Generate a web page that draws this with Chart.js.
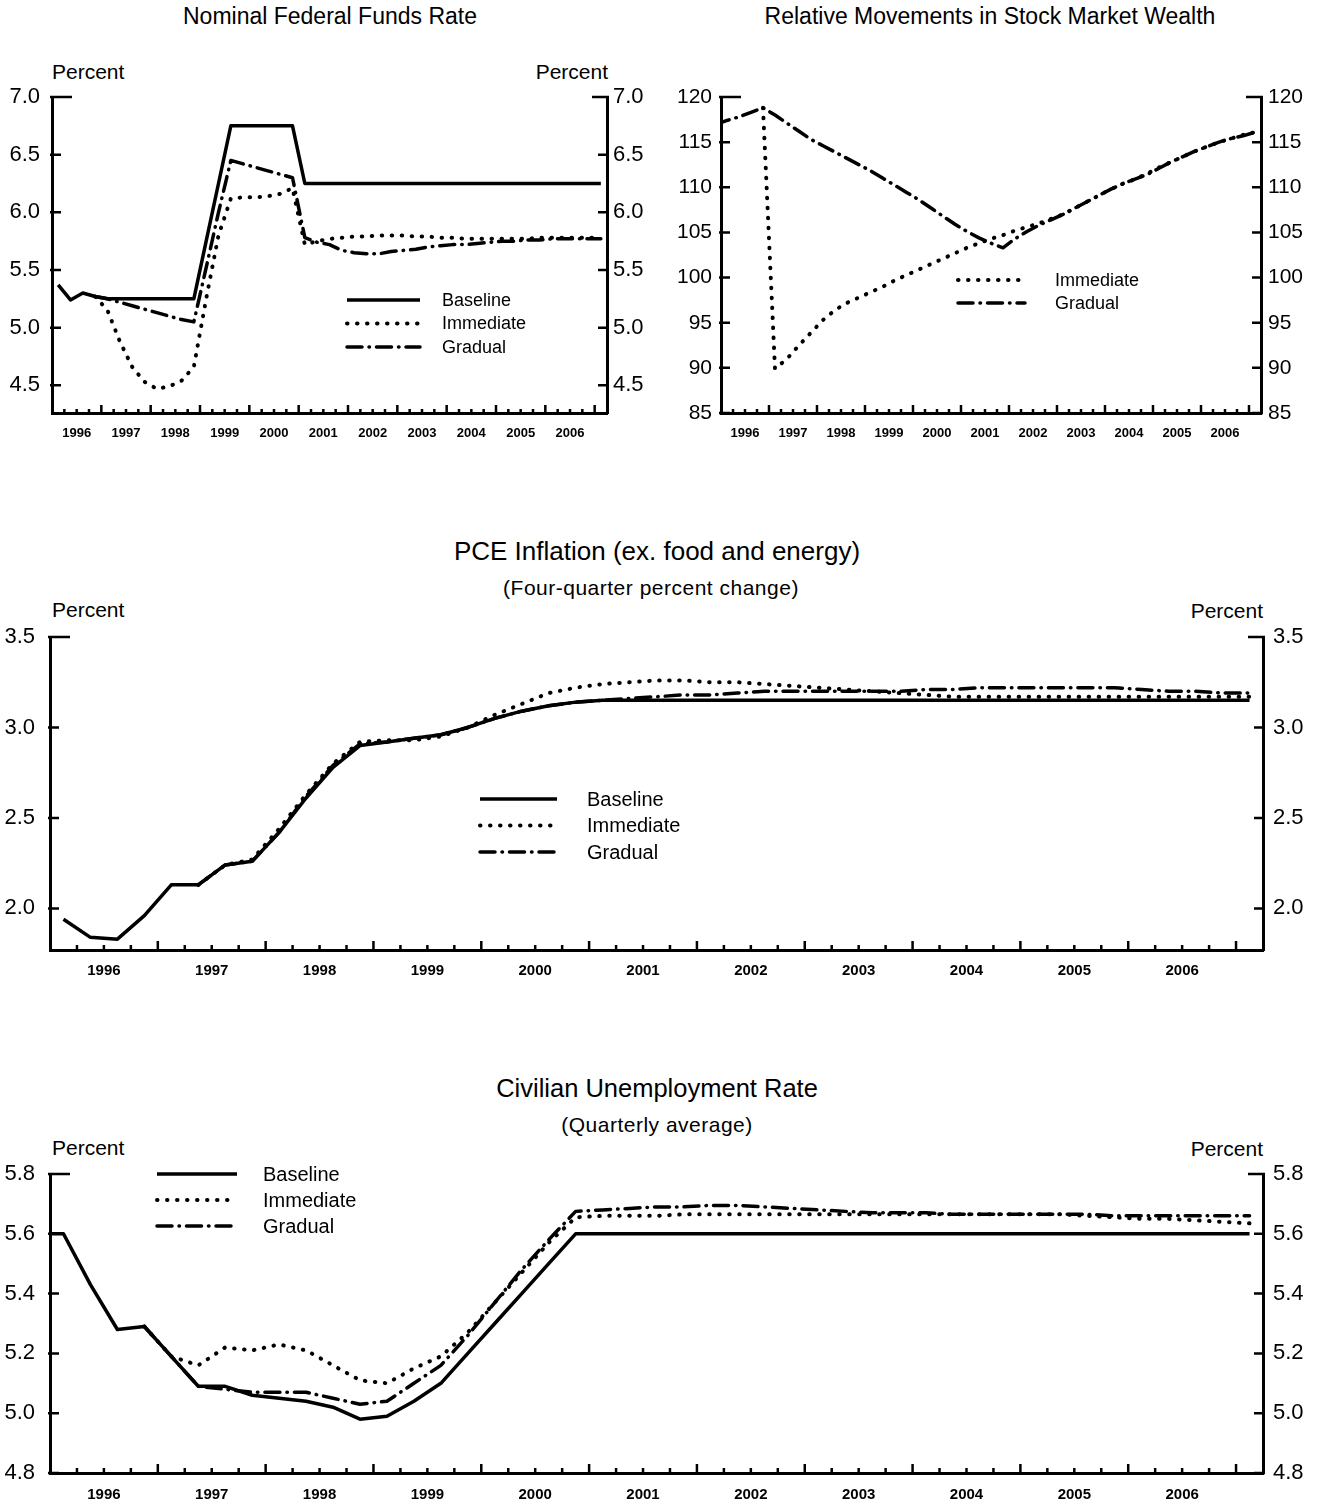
<!DOCTYPE html>
<html>
<head>
<meta charset="utf-8">
<script src="https://cdn.jsdelivr.net/npm/chart.js@4.4.1/dist/chart.umd.min.js"></script>
<style>
  body { margin: 0; background: #fff; }
  #page { position: relative; width: 1322px; height: 1504px; font-family: "Liberation Sans", Arial, sans-serif; color: #000; }
  .lbl { position: absolute; white-space: nowrap; line-height: 1; }
  .mid { transform: translate(-50%, -50%); }
  .vmid { transform: translateY(-50%); }
  .sub { font-size: 21px; letter-spacing: 0.5px; }
  canvas { position: absolute; }
</style>
</head>
<body>
<div id="page">
  <div class="lbl mid" style="left:330px;top:16px;font-size:23px">Nominal Federal Funds Rate</div>
  <div class="lbl mid" style="left:990px;top:16px;font-size:23px">Relative Movements in Stock Market Wealth</div>
  <div class="lbl vmid" style="left:52px;top:71px;font-size:21px">Percent</div>
  <div class="lbl vmid" style="right:714px;top:71px;font-size:21px">Percent</div>

  <div class="lbl mid" style="left:657px;top:551px;font-size:26px">PCE Inflation (ex. food and energy)</div>
  <div class="lbl mid sub" style="left:651px;top:587px">(Four-quarter percent change)</div>
  <div class="lbl vmid" style="left:52px;top:609px;font-size:21px">Percent</div>
  <div class="lbl vmid" style="right:59px;top:610px;font-size:21px">Percent</div>

  <div class="lbl mid" style="left:657px;top:1089px;font-size:25.5px">Civilian Unemployment Rate</div>
  <div class="lbl mid sub" style="left:657px;top:1124px">(Quarterly average)</div>
  <div class="lbl vmid" style="left:52px;top:1147px;font-size:21px">Percent</div>
  <div class="lbl vmid" style="right:59px;top:1148px;font-size:21px">Percent</div>

  <canvas id="fed" width="661" height="410" style="left:0;top:40px"></canvas>
  <canvas id="stock" width="661" height="410" style="left:661px;top:40px"></canvas>
  <canvas id="pce" width="1322" height="390" style="left:0;top:600px"></canvas>
  <canvas id="unemp" width="1322" height="364" style="left:0;top:1140px"></canvas>
</div>

<script>
// quarterly observations, 1995Q4 .. 2007Q1
var quarters = [
  "1995Q4",
  "1996Q1","1996Q2","1996Q3","1996Q4",
  "1997Q1","1997Q2","1997Q3","1997Q4",
  "1998Q1","1998Q2","1998Q3","1998Q4",
  "1999Q1","1999Q2","1999Q3","1999Q4",
  "2000Q1","2000Q2","2000Q3","2000Q4",
  "2001Q1","2001Q2","2001Q3","2001Q4",
  "2002Q1","2002Q2","2002Q3","2002Q4",
  "2003Q1","2003Q2","2003Q3","2003Q4",
  "2004Q1","2004Q2","2004Q3","2004Q4",
  "2005Q1","2005Q2","2005Q3","2005Q4",
  "2006Q1","2006Q2","2006Q3","2006Q4",
  "2007Q1"
];
var years = [1996, 1997, 1998, 1999, 2000, 2001, 2002, 2003, 2004, 2005, 2006];

var fedTicks = [4.5, 5.0, 5.5, 6.0, 6.5, 7.0];
var stockTicks = [85, 90, 95, 100, 105, 110, 115, 120];
var pceTicks = [2.0, 2.5, 3.0, 3.5];
var unempTicks = [4.8, 5.0, 5.2, 5.4, 5.6, 5.8];

var fedBaseline = [null,
  5.37, 5.24, 5.30, 5.27,
  5.25, 5.25, 5.25, 5.25,
  5.25, 5.25, 5.25, 5.25,
  5.75, 6.25, 6.75, 6.75,
  6.75, 6.75, 6.75, 6.75,
  6.25, 6.25, 6.25, 6.25,
  6.25, 6.25, 6.25, 6.25,
  6.25, 6.25, 6.25, 6.25,
  6.25, 6.25, 6.25, 6.25,
  6.25, 6.25, 6.25, 6.25,
  6.25, 6.25, 6.25, 6.25,
  6.25];
var fedImmediate = [null,
  null, null, null, 5.27,
  5.15, 4.88, 4.66, 4.53,
  4.47, 4.49, 4.54, 4.66,
  5.25, 5.80, 6.12, 6.13,
  6.13, 6.14, 6.16, 6.21,
  5.72, 5.75, 5.77, 5.78,
  5.79, 5.79, 5.80, 5.80,
  5.80, 5.79, 5.79, 5.78,
  5.78, 5.77, 5.77, 5.77,
  5.77, 5.77, 5.77, 5.78,
  5.78, 5.78, 5.78, 5.78,
  5.78];
var fedGradual = [null,
  null, null, null, 5.27,
  5.25, 5.22, 5.19, 5.16,
  5.13, 5.10, 5.07, 5.05,
  5.52, 6.00, 6.45, 6.42,
  6.39, 6.36, 6.33, 6.30,
  5.78, 5.74, 5.72, 5.67,
  5.65, 5.64, 5.64, 5.66,
  5.67, 5.68, 5.70, 5.71,
  5.72, 5.72, 5.73, 5.74,
  5.75, 5.75, 5.76, 5.76,
  5.77, 5.77, 5.77, 5.77,
  5.77];

var stockImmediate = [null,
  null, null, null, 118.8,
  89.9, 91.0, 92.5, 93.9,
  95.3, 96.4, 97.2, 97.8,
  98.4, 99.0, 99.7, 100.3,
  100.9, 101.5, 102.1, 102.7,
  103.3, 103.8, 104.3, 104.7,
  105.2, 105.6, 106.0, 106.5,
  107.0, 107.7, 108.4, 109.1,
  109.8, 110.4, 110.9, 111.5,
  112.2, 112.8, 113.4, 114.0,
  114.5, 115.0, 115.4, 115.8,
  116.1];
var stockGradual = [116.9,
  117.4, 117.8, 118.3, 118.8,
  118.0, 117.1, 116.2, 115.3,
  114.6, 113.9, 113.2, 112.5,
  111.8, 111.0, 110.2, 109.4,
  108.6, 107.7, 106.8, 105.9,
  105.1, 104.4, 103.8, 103.3,
  104.3, 105.1, 105.8, 106.4,
  107.0, 107.7, 108.4, 109.1,
  109.8, 110.4, 110.9, 111.4,
  112.1, 112.8, 113.4, 114.0,
  114.5, 115.0, 115.4, 115.7,
  116.1];

var pceBaseline = [null,
  1.94, 1.84, 1.83, 1.96,
  2.13, 2.13, 2.24, 2.26,
  2.42, 2.61, 2.78, 2.90,
  2.92, 2.94, 2.96, 3.00,
  3.05, 3.09, 3.12, 3.14,
  3.15, 3.15, 3.15, 3.15,
  3.15, 3.15, 3.15, 3.15,
  3.15, 3.15, 3.15, 3.15,
  3.15, 3.15, 3.15, 3.15,
  3.15, 3.15, 3.15, 3.15,
  3.15, 3.15, 3.15, 3.15,
  3.15];
var pceImmediate = [null,
  null, null, null, null,
  null, 2.13, 2.24, 2.27,
  2.44, 2.63, 2.80, 2.92,
  2.93, 2.93, 2.95, 3.00,
  3.07, 3.13, 3.19, 3.22,
  3.24, 3.25, 3.26, 3.26,
  3.25, 3.25, 3.24, 3.23,
  3.22, 3.21, 3.20, 3.19,
  3.18, 3.17, 3.17, 3.17,
  3.17, 3.17, 3.17, 3.17,
  3.17, 3.17, 3.17, 3.17,
  3.17];
var pceGradual = [null,
  null, null, null, null,
  null, 2.13, 2.24, 2.26,
  2.42, 2.62, 2.79, 2.91,
  2.92, 2.94, 2.96, 3.00,
  3.05, 3.09, 3.12, 3.14,
  3.15, 3.16, 3.17, 3.18,
  3.18, 3.19, 3.20, 3.20,
  3.20, 3.20, 3.20, 3.20,
  3.21, 3.21, 3.22, 3.22,
  3.22, 3.22, 3.22, 3.22,
  3.21, 3.20, 3.20, 3.19,
  3.19];

var unempBaseline = [5.60,
  5.60, 5.43, 5.28, 5.29,
  5.19, 5.09, 5.09, 5.06,
  5.05, 5.04, 5.02, 4.98,
  4.99, 5.04, 5.10, 5.20,
  5.30, 5.40, 5.50, 5.60,
  5.60, 5.60, 5.60, 5.60,
  5.60, 5.60, 5.60, 5.60,
  5.60, 5.60, 5.60, 5.60,
  5.60, 5.60, 5.60, 5.60,
  5.60, 5.60, 5.60, 5.60,
  5.60, 5.60, 5.60, 5.60,
  5.60];
var unempImmediate = [null,
  null, null, null, 5.29,
  5.19, 5.16, 5.22, 5.21,
  5.23, 5.21, 5.16, 5.11,
  5.10, 5.15, 5.19, 5.27,
  5.37, 5.47, 5.57, 5.655,
  5.66, 5.66, 5.66, 5.665,
  5.665, 5.665, 5.665, 5.665,
  5.665, 5.665, 5.665, 5.665,
  5.665, 5.665, 5.665, 5.665,
  5.665, 5.665, 5.66, 5.655,
  5.65, 5.65, 5.645, 5.64,
  5.635];
var unempGradual = [null,
  null, null, null, 5.29,
  5.19, 5.09, 5.08, 5.07,
  5.07, 5.07, 5.05, 5.03,
  5.04, 5.10, 5.16, 5.26,
  5.37, 5.48, 5.58, 5.675,
  5.68, 5.685, 5.69, 5.69,
  5.695, 5.695, 5.69, 5.685,
  5.68, 5.675, 5.67, 5.67,
  5.67, 5.665, 5.665, 5.665,
  5.665, 5.665, 5.665, 5.66,
  5.66, 5.66, 5.66, 5.66,
  5.66];

var FONT = "'Liberation Sans', Arial, sans-serif";

// line looks shared by all four panels
var styles = {
  Baseline:  { borderWidth: 3.5, borderDash: [], borderCapStyle: 'butt' },
  Immediate: { borderWidth: 4, borderDash: [0.5, 9.5], borderCapStyle: 'round' },
  Gradual:   { borderWidth: 3.5, borderDash: [15, 7, 0.5, 7], borderCapStyle: 'round' }
};

function quarterPos(q) {
  // centre of the quarter on a year scale
  return +q.slice(0, 4) + (+q.slice(5) - 0.5) / 4;
}

function series(label, values) {
  var st = styles[label];
  return {
    label: label,
    data: quarters.map(function(q, i) { return { x: quarterPos(q), y: values[i] }; }),
    borderColor: '#000',
    borderWidth: st.borderWidth,
    borderDash: st.borderDash,
    borderCapStyle: st.borderCapStyle,
    borderJoinStyle: 'round',
    pointRadius: 0,
    tension: 0,
    fill: false
  };
}

// quarter tick marks on the time axis, inward ticks on both value axes
var axisMarks = {
  id: 'axisMarks',
  afterDraw: function(chart) {
    var ctx = chart.ctx, area = chart.chartArea;
    var xs = chart.scales.x, ys = chart.scales.y;
    var big = chart.options.plugins.axisMarks;
    ctx.save();
    ctx.strokeStyle = '#000';
    ctx.lineWidth = 2.5;
    ctx.beginPath();
    years.forEach(function(yr) {
      [0.25, 0.5, 0.75, 1].forEach(function(f) {
        var px = xs.getPixelForValue(yr + f);
        var len = f === 1 ? big.xMajor : big.xMinor;
        ctx.moveTo(px, area.bottom);
        ctx.lineTo(px, area.bottom - len);
      });
    });
    ys.ticks.forEach(function(t) {
      var py = ys.getPixelForValue(t.value);
      var top = t.value === ys.max;
      ctx.moveTo(area.left - 2, py);
      ctx.lineTo(area.left + (top ? big.capL : big.yTick), py);
      ctx.moveTo(area.right + 2, py);
      ctx.lineTo(area.right - (top ? big.capR : big.yTick), py);
    });
    ctx.stroke();
    ctx.restore();
  }
};

// small key: line sample then label
var lineKey = {
  id: 'lineKey',
  afterDraw: function(chart, args, opts) {
    if (!opts || opts.x === undefined) return;
    var ctx = chart.ctx;
    chart.data.datasets.forEach(function(ds, i) {
      var y = opts.y + i * opts.rowH;
      ctx.save();
      ctx.strokeStyle = '#000';
      ctx.lineWidth = ds.borderWidth;
      ctx.lineCap = ds.borderCapStyle;
      ctx.setLineDash(ds.borderDash);
      ctx.beginPath();
      ctx.moveTo(opts.x, y);
      ctx.lineTo(opts.x + opts.len, y);
      ctx.stroke();
      ctx.restore();
      ctx.save();
      ctx.fillStyle = '#000';
      ctx.font = opts.size + 'px ' + FONT;
      ctx.textBaseline = 'middle';
      ctx.fillText(ds.label, opts.textX, y + 1);
      ctx.restore();
    });
  }
};

Chart.register(axisMarks, lineKey);

function makeChart(id, c) {
  var valueAxis = function(pos, width, pad) {
    return {
      type: 'linear',
      position: pos,
      min: c.min,
      max: c.max,
      grid: { display: false, drawTicks: false },
      border: { display: true, width: 3, color: '#000' },
      afterBuildTicks: function(s) { s.ticks = c.ticks.map(function(v) { return { value: v }; }); },
      afterFit: function(s) { s.width = width; },
      ticks: {
        color: '#000',
        padding: pad,
        font: { family: FONT, size: c.ySize },
        callback: function(v) { return v.toFixed(c.dec); }
      }
    };
  };
  return new Chart(document.getElementById(id), {
    type: 'line',
    data: { datasets: c.datasets },
    options: {
      responsive: false,
      animation: false,
      events: [],
      layout: { padding: { top: c.top, left: 0, right: 0, bottom: 0 } },
      plugins: {
        legend: { display: false },
        tooltip: { enabled: false },
        lineKey: c.key,
        axisMarks: c.marks
      },
      scales: {
        x: {
          type: 'linear',
          min: 1996,
          max: 2007.25,
          grid: { display: false, drawTicks: false },
          border: { display: true, width: 3, color: '#000' },
          afterBuildTicks: function(s) { s.ticks = years.map(function(y) { return { value: y + 0.5 }; }); },
          afterFit: function(s) { s.height = c.xH; },
          ticks: {
            color: '#000',
            padding: c.xPad,
            autoSkip: false,
            maxRotation: 0,
            font: { family: FONT, size: c.xSize, weight: 'bold' },
            callback: function(v) { return String(Math.floor(v)); }
          }
        },
        y: valueAxis('left', c.left, c.padL),
        y2: valueAxis('right', c.right, c.padR)
      }
    }
  });
}

makeChart('fed', {
  datasets: [series('Baseline', fedBaseline), series('Immediate', fedImmediate), series('Gradual', fedGradual)],
  min: 4.26, max: 7.0, ticks: fedTicks, dec: 1,
  top: 57, xH: 37, left: 52, right: 54, padL: 12, padR: 6,
  ySize: 22, xSize: 13, xPad: 13,
  marks: { xMajor: 8, xMinor: 4, yTick: 9, capL: 20, capR: 15 },
  key: { x: 347, len: 73, textX: 442, y: 260, rowH: 23.5, size: 18 }
});

makeChart('stock', {
  datasets: [series('Immediate', stockImmediate), series('Gradual', stockGradual)],
  min: 85, max: 120, ticks: stockTicks, dec: 0,
  top: 57, xH: 37, left: 60, right: 61, padL: 9, padR: 7,
  ySize: 21, xSize: 13, xPad: 13,
  marks: { xMajor: 8, xMinor: 4, yTick: 9, capL: 20, capR: 15 },
  key: { x: 297, len: 67, textX: 394, y: 240, rowH: 23, size: 18 }
});

makeChart('pce', {
  datasets: [series('Baseline', pceBaseline), series('Immediate', pceImmediate), series('Gradual', pceGradual)],
  min: 1.77, max: 3.5, ticks: pceTicks, dec: 1,
  top: 37, xH: 40, left: 50, right: 59, padL: 15, padR: 10,
  ySize: 22, xSize: 15, xPad: 12,
  marks: { xMajor: 9, xMinor: 5, yTick: 9, capL: 20, capR: 15 },
  key: { x: 480, len: 77, textX: 587, y: 199, rowH: 26.5, size: 20 }
});

makeChart('unemp', {
  datasets: [series('Baseline', unempBaseline), series('Immediate', unempImmediate), series('Gradual', unempGradual)],
  min: 4.8, max: 5.8, ticks: unempTicks, dec: 1,
  top: 34, xH: 31, left: 50, right: 59, padL: 15, padR: 10,
  ySize: 22, xSize: 15, xPad: 13,
  marks: { xMajor: 9, xMinor: 5, yTick: 9, capL: 20, capR: 15 },
  key: { x: 157, len: 80, textX: 263, y: 34, rowH: 26, size: 20 }
});
</script>
</body>
</html>
